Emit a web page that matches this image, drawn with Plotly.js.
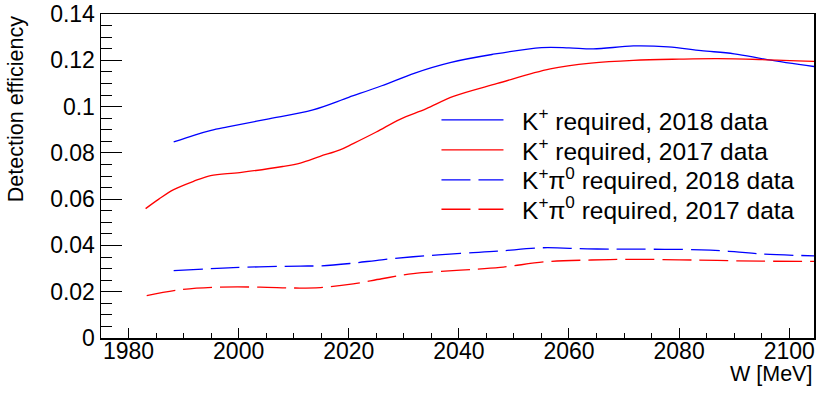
<!DOCTYPE html>
<html>
<head>
<meta charset="utf-8">
<script src="https://cdn.plot.ly/plotly-3.0.1.min.js"></script>
<style>
  html, body { margin: 0; padding: 0; background: #fff; }
  #chart { width: 830px; height: 394px; }
</style>
</head>
<body>
<div id="chart"></div>
<script>
// W [MeV] and efficiency values

// K+ required, 2018 data
const wK2018 = [1988.2, 1992, 1995, 1998, 2005, 2013.5, 2020, 2026, 2032, 2038.4, 2046, 2055, 2060, 2064.4, 2071.7, 2078, 2084, 2090, 2096, 2104.5];
const effK2018 = [0.0847, 0.0877, 0.0897, 0.0912, 0.0945, 0.0986, 0.1040, 0.1090, 0.1145, 0.1190, 0.1225, 0.1255, 0.1254, 0.1249, 0.1262, 0.1258, 0.1242, 0.1228, 0.1203, 0.1173];

// K+ required, 2017 data
const wK2017 = [1983.1, 1985.5, 1988.2, 1991.8, 1994.9, 2000.2, 2008, 2011.2, 2014.8, 2018.4, 2020.8, 2025, 2029.3, 2034, 2039, 2047, 2056.6, 2064, 2071.7, 2080, 2087, 2095, 2104.5];
const effK2017 = [0.0559, 0.0600, 0.0641, 0.0677, 0.0702, 0.0715, 0.0741, 0.0756, 0.0785, 0.0813, 0.0840, 0.0890, 0.0945, 0.0990, 0.1044, 0.1100, 0.1163, 0.1188, 0.1200, 0.1205, 0.1207, 0.1203, 0.1195];

// K+pi0 required, 2018 data
const wKpi2018 = [1988.2, 1999, 2011.2, 2015, 2020.2, 2026, 2031.7, 2040.3, 2047, 2055.3, 2063.3, 2072, 2084, 2090, 2094.8, 2104.5];
const effKpi2018 = [0.0291, 0.0304, 0.0311, 0.0312, 0.0322, 0.0338, 0.0351, 0.0366, 0.0375, 0.0390, 0.0385, 0.0384, 0.0381, 0.0373, 0.0363, 0.0355];

// K+pi0 required, 2017 data
const wKpi2017 = [1983.3, 1988.8, 1995.4, 2003.9, 2009.9, 2014.8, 2020.8, 2026, 2031.7, 2040.3, 2047.5, 2056, 2064, 2071.7, 2080, 2086.9, 2095, 2104.5];
const effKpi2017 = [0.0183, 0.0207, 0.0219, 0.0220, 0.0216, 0.0218, 0.0234, 0.0256, 0.0278, 0.0293, 0.0305, 0.0330, 0.0337, 0.0340, 0.0338, 0.0335, 0.0332, 0.0331];

const seriesNames = [
  "\u00a0\u00a0K<sup>+</sup> required, 2018 data",
  "\u00a0\u00a0K<sup>+</sup> required, 2017 data",
  "\u00a0\u00a0K<sup>+</sup>\u03c0<sup>0</sup> required, 2018 data",
  "\u00a0\u00a0K<sup>+</sup>\u03c0<sup>0</sup> required, 2017 data"
];

const FONT = "Liberation Sans, Arial, Helvetica, sans-serif";

function curve(x, y, name, color, dash, legendId) {
  return {
    x: x, y: y, name: name,
    type: "scatter", mode: "lines",
    line: { color: color, width: 1.3, shape: "spline", smoothing: 1, dash: dash },
    legend: legendId,
    hoverinfo: "skip"
  };
}

const traces = [
  curve(wK2018, effK2018, seriesNames[0], "#0000ff", "solid", "legend"),
  curve(wK2017, effK2017, seriesNames[1], "#ff0000", "solid", "legend2"),
  curve(wKpi2018, effKpi2018, seriesNames[2], "#0000ff", "29px,8px", "legend3"),
  curve(wKpi2017, effKpi2017, seriesNames[3], "#ff0000", "29px,8px", "legend4")
];

// one legend box per row so the rows sit where the original has them
function legendRow(y) {
  return {
    x: 0.4705, y: y, xanchor: "left", yanchor: "middle",
    bgcolor: "rgba(0,0,0,0)", borderwidth: 0,
    font: { family: FONT, size: 24.5, color: "#000" },
    itemwidth: 62
  };
}

const layout = {
  width: 830,
  height: 394,
  margin: { l: 101, r: 16, t: 14, b: 56 },
  paper_bgcolor: "#fff",
  plot_bgcolor: "#fff",
  font: { family: FONT, size: 23, color: "#000" },
  showlegend: true,
  legend: legendRow(0.6728),
  legend2: legendRow(0.5802),
  legend3: legendRow(0.4877),
  legend4: legendRow(0.3972),
  xaxis: {
    range: [1975, 2104.5],
    showgrid: false, zeroline: false,
    showline: true, linecolor: "#000", linewidth: 1.5, mirror: true,
    ticks: "inside", ticklen: 10, tickwidth: 1, tickcolor: "#000",
    dtick: 20, tick0: 1980,
    ticklabelstandoff: -8,
    minor: { dtick: 5, ticks: "inside", ticklen: 5, tickcolor: "#000" },
    tickfont: { family: FONT, size: 23, color: "#000" }
  },
  yaxis: {
    range: [0, 0.14],
    showgrid: false, zeroline: false,
    showline: true, linecolor: "#000", linewidth: 1.5, mirror: true,
    ticks: "inside", ticklen: 21, tickwidth: 1, tickcolor: "#000",
    dtick: 0.02, tick0: 0,
    minor: { dtick: 0.005, ticks: "inside", ticklen: 11, tickcolor: "#000" },
    tickfont: { family: FONT, size: 23, color: "#000" }
  },
  annotations: [
    {
      text: "Detection efficiency", textangle: -90,
      xref: "paper", yref: "paper", x: -0.119, y: 1,
      xanchor: "center", yanchor: "top", showarrow: false,
      font: { family: FONT, size: 21.5, color: "#000" }
    },
    {
      text: "W [MeV]",
      xref: "paper", yref: "paper", x: 1, y: -0.111,
      xanchor: "right", yanchor: "middle", showarrow: false,
      font: { family: FONT, size: 21.5, color: "#000" }
    }
  ]
};

Plotly.newPlot("chart", traces, layout, { displayModeBar: false, staticPlot: true });
</script>
</body>
</html>
